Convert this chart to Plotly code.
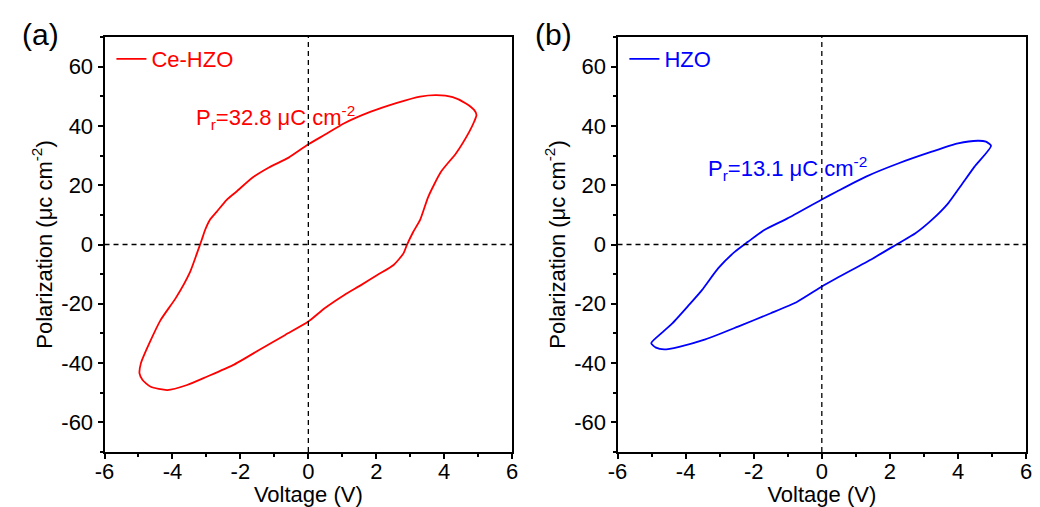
import plotly.graph_objects as go

# Panel (a) Ce-HZO loop (voltage V, polarization uC/cm2)
v_a = [-4.97, -4.93, -4.68, -4.35, -3.90, -3.48, -3.28, -3.14, -3.04, -2.90, -2.70, -2.41, -2.12, -1.64,
       -1.16, -0.58, 0.0, 0.48, 1.06, 1.84, 2.61, 3.29, 3.77, 4.25, 4.64, 4.88, 4.95,
       4.88, 4.74, 4.35, 3.91, 3.53, 3.29, 3.09, 2.90, 2.80, 2.51, 2.03, 1.55, 1.06, 0.48, 0.0,
       -0.68, -1.45, -2.22, -2.99, -3.57, -4.15, -4.64, -4.88, -4.97]
p_a = [-43.5, -40.1, -33.3, -25.5, -18.0, -9.2, -3.0, 1.5, 4.9, 8.3, 11.0, 15.0, 17.8, 22.6,
       26.0, 29.3, 33.8, 37.0, 40.9, 44.8, 47.8, 49.9, 50.4, 49.7, 47.6, 45.4, 43.7,
       41.4, 38.1, 30.8, 24.6, 16.1, 8.3, 4.3, -0.2, -3.0, -6.9, -10.3, -13.7, -17.0, -21.5, -26.0,
       -30.5, -35.6, -40.7, -44.6, -47.4, -49.1, -48.0, -45.7, -43.5]

# Panel (b) HZO loop
v_b = [-5.01, -4.87, -4.63, -4.19, -3.42, -2.46, -1.50, -0.72, 0.0, 0.43, 1.50, 2.22, 2.75, 3.23,
       3.71, 4.10, 4.48, 4.97, 4.82, 4.58, 4.00, 3.23, 2.26, 1.30, 0.43, 0.0, -1.01, -1.69, -2.17,
       -2.55, -3.04, -3.52, -3.90, -4.39, -4.77, -5.01]
p_b = [-33.3, -34.8, -35.4, -34.5, -32.0, -27.7, -23.2, -19.3, -14.2, -11.4, -4.7, 0.2, 3.8, 8.3,
       13.9, 20.1, 26.2, 33.3, 34.7, 35.0, 34.1, 31.3, 27.4, 22.9, 17.8, 15.2, 8.8, 4.9, 0.9,
       -2.4, -8.0, -15.4, -20.4, -26.6, -30.5, -33.3]

names = ["Ce-HZO", "HZO"]
colors = ["#ff0000", "#0000ff"]
pr_labels = ["P<sub>r</sub>=32.8 μC cm<sup>-2</sup>", "P<sub>r</sub>=13.1 μC cm<sup>-2</sup>"]
pr_pos = [(-0.97, 42.7), (-1.01, 25.8)]
panel_tags = ["(a)", "(b)"]
x_ticks = [-6, -4, -2, 0, 2, 4, 6]
x_ticktext = ["-6", "-4", "-2", "0", "2", "4", "6"]
y_ticks = [-60, -40, -20, 0, 20, 40, 60]
y_ticktext = ["-60", "-40", "-20", "0", "20", "40", "60"]

FONT = "Arial, Liberation Sans, sans-serif"
FS = 22
W, H = 1040, 507
xdoms = [[96 / W, 510 / W], [617 / W, 1032 / W]]
ydom = [1 - 452 / H, 1 - 37 / H]

fig = go.Figure()
fig.add_trace(go.Scatter(x=v_a, y=p_a, mode="lines", name=names[0],
                         line=dict(color=colors[0], width=1.8, shape="spline", smoothing=0.6),
                         xaxis="x", yaxis="y", legend="legend"))
fig.add_trace(go.Scatter(x=v_b, y=p_b, mode="lines", name=names[1],
                         line=dict(color=colors[1], width=1.8, shape="spline", smoothing=0.6),
                         xaxis="x2", yaxis="y2", legend="legend2"))

axis_common = dict(showline=True, linecolor="black", linewidth=2, mirror=True, ticks="outside",
                   ticklen=5, tickwidth=1.5, tickcolor="black", showgrid=False, zeroline=False,
                   tickfont=dict(family=FONT, size=FS, color="black"))
minor_common = dict(ticks="outside", ticklen=3, tickwidth=1.5, tickcolor="black", showgrid=False)

layout = dict(width=W, height=H, margin=dict(l=0, r=0, t=0, b=0), showlegend=True,
              paper_bgcolor="white", plot_bgcolor="white", font=dict(family=FONT, color="black"))
for i in range(2):
    sx = "" if i == 0 else "2"
    layout["xaxis" + sx] = dict(axis_common, domain=xdoms[i], range=[-6, 6],
                                tickmode="array", tickvals=x_ticks, ticktext=x_ticktext,
                                ticklabelstandoff=-6,
                                minor=dict(minor_common, dtick=1, tick0=0),
                                anchor="y" + sx,
                                title=dict(text="Voltage (V)", font=dict(family=FONT, size=FS, color="black"), standoff=2))
    layout["yaxis" + sx] = dict(axis_common, domain=ydom, range=[-70, 70],
                                tickmode="array", tickvals=y_ticks, ticktext=y_ticktext,
                                minor=dict(minor_common, dtick=10, tick0=0),
                                anchor="x" + sx,
                                title=dict(text="Polarization (μc cm<sup>-2</sup>)",
                                           font=dict(family=FONT, size=FS, color="black"), standoff=3))
fig.update_layout(**layout)

fig.update_layout(
    legend=dict(x=xdoms[0][0] + 7 / W, y=ydom[1] - 1 / H, xanchor="left", yanchor="top",
                bgcolor="rgba(0,0,0,0)", font=dict(family=FONT, size=FS, color=colors[0])),
    legend2=dict(x=xdoms[1][0] + 7 / W, y=ydom[1] - 1 / H, xanchor="left", yanchor="top",
                 bgcolor="rgba(0,0,0,0)", font=dict(family=FONT, size=FS, color=colors[1])),
)

for i in range(2):
    sx = "" if i == 0 else "2"
    # dashed zero lines
    fig.add_shape(type="line", xref="x" + sx, yref="y" + sx + " domain", x0=0, x1=0, y0=0, y1=1,
                  line=dict(color="black", width=1.3, dash="5px,4px"))
    fig.add_shape(type="line", xref="x" + sx + " domain", yref="y" + sx, x0=0, x1=1, y0=0, y1=0,
                  line=dict(color="black", width=1.3, dash="5px,4px"))
    fig.add_annotation(x=pr_pos[i][0], y=pr_pos[i][1], xref="x" + sx, yref="y" + sx,
                       text=pr_labels[i], showarrow=False,
                       font=dict(family=FONT, size=FS, color=colors[i]))
    fig.add_annotation(x=xdoms[i][0] - 86 / W, y=1 - 34 / H, xref="paper", yref="paper",
                       text=panel_tags[i], showarrow=False, xanchor="left", yanchor="middle",
                       font=dict(family=FONT, size=30, color="black"))

fig.write_html("out.html")
